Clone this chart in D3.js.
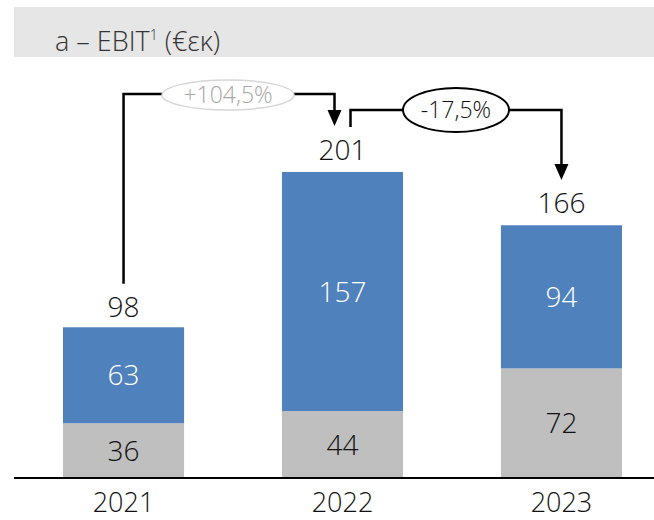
<!DOCTYPE html>
<html>
<head>
<meta charset="utf-8">
<script src="https://cdn.jsdelivr.net/npm/d3@7"></script>
<style>
  body { margin: 0; background: #fff; }
  svg text { font-family: "Open Sans", "Noto Sans", sans-serif; font-weight: 300; }
</style>
</head>
<body>
<div id="chart"></div>
<script>
// data
var years = ["2021", "2022", "2023"];
var grayVals = [36, 44, 72];
var blueVals = [63, 157, 94];
var totals = [98, 201, 166];
var changes = ["+104,5%", "-17,5%"];

var W = 654, H = 520;
var svg = d3.select("#chart").append("svg").attr("width", W).attr("height", H);

// title band
svg.append("rect").attr("x", 14).attr("y", 7).attr("width", W - 14).attr("height", 50).attr("fill", "#e6e6e7");
var title = svg.append("text").attr("x", 55).attr("y", 51).attr("font-size", 27).attr("fill", "#333");
title.append("tspan").text("a \u2013 EBIT");
title.append("tspan").attr("font-size", 14).attr("dy", -11).text("1");
title.append("tspan").attr("dy", 11).text(" (\u20ac\u03b5\u03ba)");

var x = d3.scaleBand().domain(years).range([63, 622]).paddingInner(0.447).paddingOuter(0);
var y = d3.scaleLinear().domain([0, d3.max(totals)]).range([478, 172]);

var rows = years.map(function (yr, i) {
    return {year: yr, gray: grayVals[i], blue: blueVals[i], total: totals[i]};
});

// bars
var g = svg.append("g");
g.selectAll("rect.gray").data(rows).enter().append("rect")
    .attr("x", function (d) { return x(d.year); })
    .attr("width", x.bandwidth())
    .attr("y", function (d) { return y(d.gray); })
    .attr("height", function (d) { return y(0) - y(d.gray); })
    .attr("fill", "#bfbfbf");
g.selectAll("rect.blue").data(rows).enter().append("rect")
    .attr("x", function (d) { return x(d.year); })
    .attr("width", x.bandwidth())
    .attr("y", function (d) { return y(d.gray + d.blue); })
    .attr("height", function (d) { return y(d.gray) - y(d.gray + d.blue); })
    .attr("fill", "#4f81bd");

var cx = function (d) { return x(d.year) + x.bandwidth() / 2; };

// inner labels
g.selectAll("text.gl").data(rows).enter().append("text")
    .attr("x", cx).attr("y", function (d) { return (y(0) + y(d.gray)) / 2 + 10; })
    .attr("text-anchor", "middle").attr("font-size", 28).attr("fill", "#111")
    .text(function (d) { return d.gray; });
g.selectAll("text.bl").data(rows).enter().append("text")
    .attr("x", cx).attr("y", function (d) { return (y(d.gray) + y(d.gray + d.blue)) / 2 + 10; })
    .attr("text-anchor", "middle").attr("font-size", 28).attr("fill", "#fff")
    .text(function (d) { return d.blue; });

// totals
g.selectAll("text.tot").data(rows).enter().append("text")
    .attr("x", cx).attr("y", function (d) { return y(d.total) - 12; })
    .attr("text-anchor", "middle").attr("font-size", 28).attr("fill", "#111")
    .text(function (d) { return d.total; });

// axis
svg.append("line").attr("x1", 14).attr("x2", W).attr("y1", y(0)).attr("y2", y(0))
    .attr("stroke", "#000").attr("stroke-width", 2);
svg.selectAll("text.yr").data(years).enter().append("text")
    .attr("x", function (d) { return x(d) + x.bandwidth() / 2; })
    .attr("y", 512).attr("text-anchor", "middle").attr("font-size", 27).attr("fill", "#111")
    .text(function (d) { return d; });

// connectors
function arrow(x0, yTip) {
    svg.append("path")
        .attr("d", "M" + (x0 - 7) + "," + (yTip - 16) + "L" + (x0 + 7) + "," + (yTip - 16) + "L" + x0 + "," + yTip + "Z")
        .attr("fill", "#000");
}
var c0 = cx(rows[0]), c1 = cx(rows[1]), c2 = cx(rows[2]);
var line = d3.line();
svg.append("path")
    .attr("d", line([[c0, y(rows[0].total) - 45], [c0, 94], [c1 - 8, 94], [c1 - 8, 112]]))
    .attr("fill", "none").attr("stroke", "#000").attr("stroke-width", 2.5);
arrow(c1 - 8, 126);
svg.append("path")
    .attr("d", line([[c1 + 8, 127], [c1 + 8, 110], [c2, 110], [c2, 166]]))
    .attr("fill", "none").attr("stroke", "#000").attr("stroke-width", 2.5);
arrow(c2, 180);

// bubbles
svg.append("ellipse").attr("cx", 228).attr("cy", 95).attr("rx", 66).attr("ry", 15)
    .attr("fill", "#fff").attr("stroke", "#d6d6d6").attr("stroke-width", 1.5);
svg.append("text").attr("x", 228).attr("y", 103).attr("text-anchor", "middle")
    .attr("font-size", 23).attr("fill", "#a6a6a6").text(changes[0]);
svg.append("ellipse").attr("cx", 456).attr("cy", 110).attr("rx", 53).attr("ry", 22)
    .attr("fill", "#fff").attr("stroke", "#000").attr("stroke-width", 2);
svg.append("text").attr("x", 456).attr("y", 118).attr("text-anchor", "middle")
    .attr("font-size", 23).attr("fill", "#111").text(changes[1]);
</script>
</body>
</html>
